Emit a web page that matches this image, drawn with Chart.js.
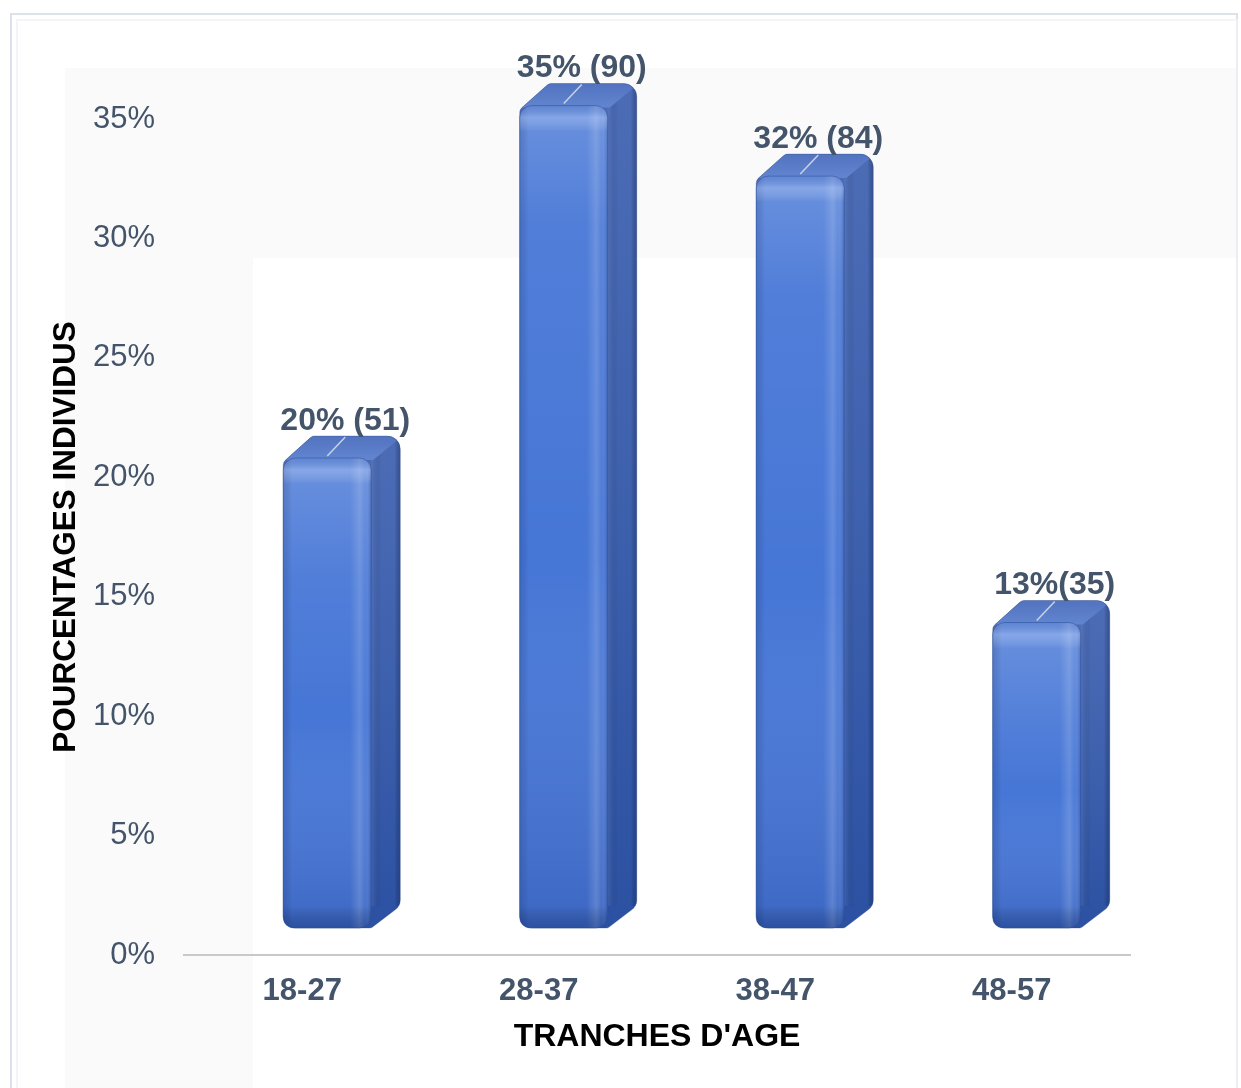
<!DOCTYPE html>
<html>
<head>
<meta charset="utf-8">
<script src="https://cdn.jsdelivr.net/npm/chart.js@4.4.1/dist/chart.umd.min.js"></script>
<style>
  html, body { margin: 0; padding: 0; background: #fff; }
  canvas { display: block; }
</style>
</head>
<body>
<canvas id="chart" width="1241" height="1088"></canvas>
<script>
// Répartition des individus par tranche d'âge
const ageGroups = ['18-27', '28-37', '38-47', '48-57'];
const percentages = [20, 35, 32, 13];
const counts = [51, 90, 84, 35];
const labelGaps = [' ', ' ', ' ', ''];
const yTicks = [0, 5, 10, 15, 20, 25, 30, 35];

const valueLabels = percentages.map((p, i) => p + '%' + labelGaps[i] + '(' + counts[i] + ')');

// 3D look: the front face sits in front of the axis wall, so bars use
// their own (hidden) value axis whose zero is a little above the floor line
const FRONT_MIN = -1.15;
const FRONT_MAX = 34.43;
const DEPTH_X = 29;
const DEPTH_Y = -22;
const SHIFT_X = 25;

const TEXT_COLOR = '#44546a';
const FONT = '"Liberation Sans", Arial, sans-serif';

function roundedPoly(ctx, pts) {
  const n = pts.length;
  const last = pts[n - 1], first = pts[0];
  ctx.beginPath();
  ctx.moveTo((last[0] + first[0]) / 2, (last[1] + first[1]) / 2);
  for (let i = 0; i < n; i++) {
    const p = pts[i], q = pts[(i + 1) % n];
    ctx.arcTo(p[0], p[1], q[0], q[1], p[2]);
  }
  ctx.closePath();
}

function roundRect(ctx, x, y, w, h, r) {
  roundedPoly(ctx, [[x, y, r], [x + w, y, r], [x + w, y + h, r], [x, y + h, r]]);
}

function barBox(el) {
  const p = el.getProps(['x', 'y', 'base', 'width'], true);
  const xl = p.x - p.width / 2 + SHIFT_X;
  const xr = p.x + p.width / 2 + SHIFT_X;
  return { xl, xr, yt: p.y, yb: p.base, xc: p.x + SHIFT_X };
}

const background = {
  id: 'background',
  beforeDraw(chart) {
    const ctx = chart.ctx;
    ctx.save();
    ctx.fillStyle = '#ffffff';
    ctx.fillRect(0, 0, chart.width, chart.height);
    // faint plot panel
    ctx.fillStyle = '#fafafa';
    ctx.beginPath();
    ctx.moveTo(65, 68);
    ctx.lineTo(1237, 68);
    ctx.lineTo(1237, 258);
    ctx.lineTo(253, 258);
    ctx.lineTo(253, 1088);
    ctx.lineTo(65, 1088);
    ctx.closePath();
    ctx.fill();
    // frame
    ctx.strokeStyle = '#dde2ea';
    ctx.lineWidth = 2;
    ctx.strokeRect(11, 14, 1226, 1100);
    ctx.strokeStyle = '#f0f2f6';
    ctx.lineWidth = 1.5;
    ctx.strokeRect(17, 20, 1220, 1100);
    ctx.restore();
  }
};

const bar3d = {
  id: 'bar3d',
  beforeDatasetsDraw(chart) {
    const ctx = chart.ctx;
    chart.getDatasetMeta(0).data.forEach(el => {
      const { xl, xr, yt, yb } = barBox(el);
      const silhouette = [
        [xl, yt + 4, 6],
        [xl + DEPTH_X, yt + DEPTH_Y, 6],
        [xr + DEPTH_X, yt + DEPTH_Y, 13],
        [xr + DEPTH_X, yb + DEPTH_Y, 12],
        [xr, yb, 4],
        [xl, yb, 10]
      ];
      ctx.save();
      // side face
      const side = ctx.createLinearGradient(0, yt, 0, yb);
      side.addColorStop(0, '#4b6bb5');
      side.addColorStop(0.5, '#3d60ad');
      side.addColorStop(1, '#2c51a2');
      roundedPoly(ctx, silhouette);
      ctx.fillStyle = side;
      ctx.fill();
      ctx.clip();
      const edge = ctx.createLinearGradient(xr, 0, xr + DEPTH_X, 0);
      edge.addColorStop(0, 'rgba(120,150,220,0.25)');
      edge.addColorStop(0.35, 'rgba(0,0,0,0)');
      edge.addColorStop(0.8, 'rgba(0,0,0,0)');
      edge.addColorStop(1, 'rgba(15,35,90,0.35)');
      ctx.fillStyle = edge;
      ctx.fillRect(xr, yt + DEPTH_Y, DEPTH_X + 2, yb - yt);
      // top face
      const top = ctx.createLinearGradient(0, yt + DEPTH_Y, 0, yt);
      top.addColorStop(0, '#5273bf');
      top.addColorStop(1, '#6184cf');
      ctx.beginPath();
      ctx.moveTo(xl - 2, yt + 2);
      ctx.lineTo(xl + DEPTH_X, yt + DEPTH_Y);
      ctx.lineTo(xr + DEPTH_X + 2, yt + DEPTH_Y);
      ctx.lineTo(xr + 2, yt + 2);
      ctx.closePath();
      ctx.fillStyle = top;
      ctx.fill();
      ctx.restore();
      // soft outline
      ctx.save();
      roundedPoly(ctx, silhouette);
      ctx.strokeStyle = 'rgba(60,80,130,0.35)';
      ctx.lineWidth = 1;
      ctx.stroke();
      ctx.restore();
    });
  },
  beforeDatasetDraw(chart) {
    chart.ctx.save();
    chart.ctx.translate(SHIFT_X, 0);
  },
  afterDatasetDraw(chart) {
    chart.ctx.restore();
  },
  afterDatasetsDraw(chart) {
    const ctx = chart.ctx;
    chart.getDatasetMeta(0).data.forEach((el, i) => {
      const { xl, xr, yt, yb, xc } = barBox(el);
      const w = xr - xl, h = yb - yt;
      ctx.save();
      roundRect(ctx, xl, yt, w, h, 12);
      ctx.clip();
      // vertical light: brighter near the top, deeper blue at the foot
      const v = ctx.createLinearGradient(0, yt, 0, yb);
      v.addColorStop(0, 'rgba(255,255,255,0.20)');
      v.addColorStop(Math.min(0.35, 120 / h), 'rgba(255,255,255,0.06)');
      v.addColorStop(0.55, 'rgba(255,255,255,0)');
      v.addColorStop(1, 'rgba(10,35,110,0.18)');
      ctx.fillStyle = v;
      ctx.fillRect(xl, yt, w, h);
      // horizontal bevel
      const hz = ctx.createLinearGradient(xl, 0, xr, 0);
      hz.addColorStop(0, 'rgba(15,40,110,0.18)');
      hz.addColorStop(0.1, 'rgba(0,0,0,0)');
      hz.addColorStop(0.76, 'rgba(255,255,255,0)');
      hz.addColorStop(0.87, 'rgba(255,255,255,0.16)');
      hz.addColorStop(0.93, 'rgba(255,255,255,0.04)');
      hz.addColorStop(1, 'rgba(15,40,110,0.28)');
      ctx.fillStyle = hz;
      ctx.fillRect(xl, yt, w, h);
      // top bevel band
      const tb = ctx.createLinearGradient(0, yt, 0, yt + 26);
      tb.addColorStop(0, 'rgba(40,70,150,0.15)');
      tb.addColorStop(0.45, 'rgba(200,220,255,0.30)');
      tb.addColorStop(1, 'rgba(255,255,255,0)');
      ctx.fillStyle = tb;
      ctx.fillRect(xl, yt, w, 26);
      // bottom bevel band
      const bb = ctx.createLinearGradient(0, yb - 22, 0, yb);
      bb.addColorStop(0, 'rgba(0,0,0,0)');
      bb.addColorStop(1, 'rgba(10,30,90,0.30)');
      ctx.fillStyle = bb;
      ctx.fillRect(xl, yb - 22, w, 22);
      ctx.restore();

      ctx.save();
      roundRect(ctx, xl, yt, w, h, 12);
      ctx.strokeStyle = 'rgba(40,70,140,0.45)';
      ctx.lineWidth = 1;
      ctx.stroke();
      ctx.restore();

      // leader line and value label
      const lx = xc + 18;
      ctx.save();
      ctx.strokeStyle = 'rgba(205,215,232,0.95)';
      ctx.lineWidth = 1.5;
      ctx.beginPath();
      ctx.moveTo(xc, yt - 2);
      ctx.lineTo(lx, yt + DEPTH_Y + 1);
      ctx.stroke();
      ctx.fillStyle = TEXT_COLOR;
      ctx.font = 'bold 32px ' + FONT;
      ctx.textAlign = 'center';
      ctx.textBaseline = 'middle';
      ctx.fillText(valueLabels[i], lx, yt + DEPTH_Y - 15);
      ctx.restore();
    });
  }
};

new Chart(document.getElementById('chart'), {
  type: 'bar',
  data: {
    labels: ageGroups,
    datasets: [{
      data: percentages,
      yAxisID: 'yFront',
      backgroundColor: '#4676d6',
      borderWidth: 0,
      borderRadius: 12,
      borderSkipped: false,
      categoryPercentage: 1,
      barPercentage: 0.372,
      clip: false
    }]
  },
  options: {
    responsive: false,
    animation: false,
    devicePixelRatio: 1,
    layout: { padding: { left: 0, top: 119, right: 111, bottom: 0 } },
    plugins: {
      legend: { display: false },
      tooltip: { enabled: false }
    },
    scales: {
      x: {
        grid: { display: false, drawTicks: false },
        border: { display: true, color: '#c6c8cc', width: 2 },
        ticks: {
          color: TEXT_COLOR,
          font: { family: FONT, size: 31, weight: 'bold' },
          padding: 18
        },
        title: {
          display: true,
          text: "TRANCHES D'AGE",
          color: '#000000',
          font: { family: FONT, size: 32, weight: 'bold' },
          padding: { top: 0, bottom: 32 }
        },
        afterFit: s => { s.height = 133; }
      },
      y: {
        position: 'left',
        min: 0,
        max: 35,
        grid: { display: false, drawTicks: false },
        border: { display: false },
        afterBuildTicks: s => { s.ticks = yTicks.map(v => ({ value: v })); },
        ticks: {
          color: TEXT_COLOR,
          font: { family: FONT, size: 31 },
          padding: 29,
          callback: v => v + '%'
        },
        title: {
          display: true,
          text: 'POURCENTAGES INDIVIDUS',
          color: '#000000',
          font: { family: FONT, size: 31.5, weight: 'bold' },
          padding: { top: 47, bottom: 0 }
        },
        afterFit: s => { s.width = 184; }
      },
      yFront: {
        position: 'right',
        display: false,
        min: FRONT_MIN,
        max: FRONT_MAX
      }
    }
  },
  plugins: [background, bar3d]
});
</script>
</body>
</html>
